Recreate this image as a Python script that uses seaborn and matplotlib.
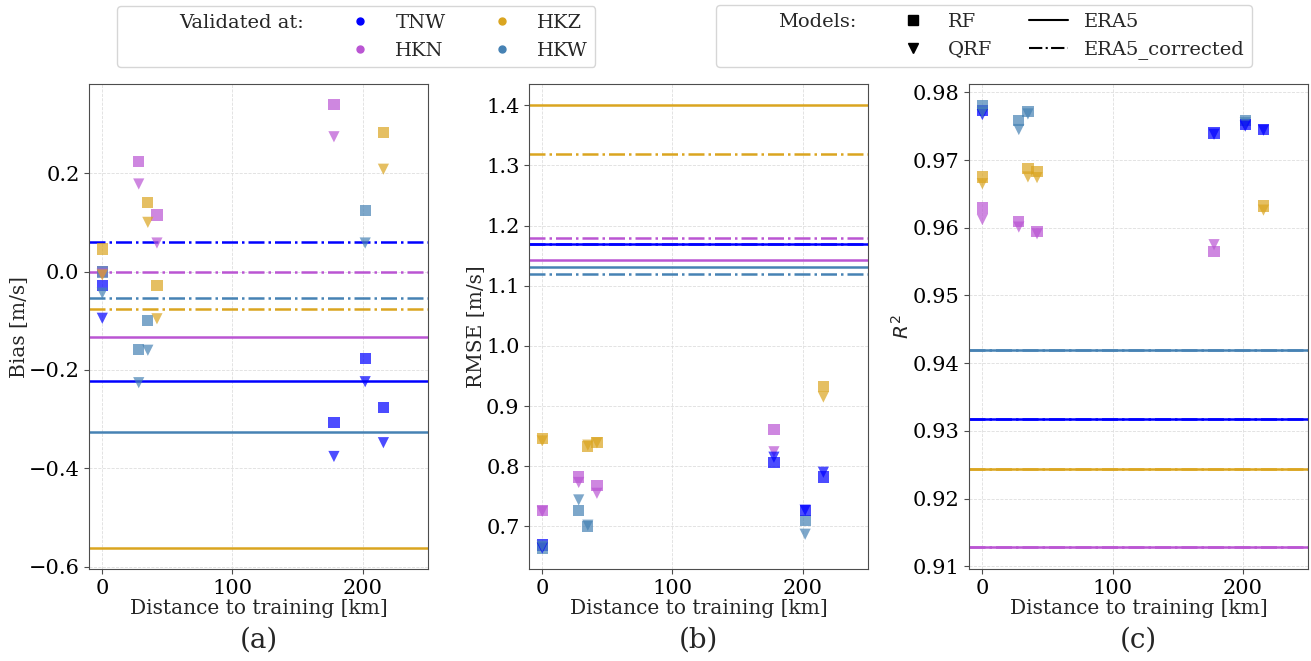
import pandas as pd
import numpy as np
import matplotlib
matplotlib.use("Agg")
import matplotlib.pyplot as plt
import seaborn as sns
from matplotlib.lines import Line2D

# set style of visualization
sns.set_style("ticks")
plt.rcParams["font.family"] = ["DejaVu Serif"]
plt.rcParams["mathtext.fontset"] = "dejavusans"

# =============================================================================
# Data
# =============================================================================

sites = ["TNW", "HKN", "HKZ", "HKW"]
site_colors = ["#0000FF", "#BA55D3", "#DAA520", "#4682B4"]

# validation site and distance to training site of each point
point_site = ["TNW", "HKN", "HKZ", "HKW", "HKN", "HKW", "HKZ", "HKW",
              "HKN", "HKZ", "HKN", "TNW", "HKW", "TNW", "HKZ", "TNW"]
point_dist = [0, 0, 0, 0, 28, 28, 35, 35, 42, 42, 178, 178, 202, 202, 216, 216]

bias_rf = [-0.029, 0.000, 0.046, -0.001, 0.224, -0.159, 0.141, -0.100,
           0.115, -0.028, 0.339, -0.307, 0.124, -0.177, 0.283, -0.277]
bias_qrf = [-0.095, -0.005, -0.007, -0.044, 0.178, -0.226, 0.100, -0.160,
            0.058, -0.096, 0.274, -0.376, 0.058, -0.224, 0.208, -0.348]

rmse_rf = [0.669, 0.727, 0.846, 0.664, 0.782, 0.727, 0.833, 0.700,
           0.768, 0.839, 0.861, 0.806, 0.710, 0.727, 0.933, 0.782]
rmse_qrf = [0.664, 0.725, 0.842, 0.667, 0.773, 0.744, 0.835, 0.702,
            0.755, 0.839, 0.824, 0.815, 0.687, 0.727, 0.915, 0.790]

r2_rf = [0.9773, 0.9629, 0.9675, 0.9781, 0.9609, 0.9758, 0.9688, 0.9772,
         0.9594, 0.9683, 0.9565, 0.9740, 0.9758, 0.9753, 0.9632, 0.9745]
r2_qrf = [0.9767, 0.9612, 0.9665, 0.9770, 0.9601, 0.9745, 0.9675, 0.9768,
          0.9591, 0.9674, 0.9575, 0.9738, 0.9755, 0.9750, 0.9626, 0.9744]

# ERA5 reference per site (TNW, HKN, HKZ, HKW)
bias_era5 = [-0.222, -0.133, -0.562, -0.327]
bias_era5_corr = [0.060, 0.000, -0.076, -0.054]
rmse_era5 = [1.170, 1.142, 1.400, 1.131]
rmse_era5_corr = [1.170, 1.179, 1.319, 1.120]
r2_era5 = [0.9318, 0.9128, 0.9244, 0.9419]
r2_era5_corr = [0.9318, 0.9128, 0.9244, 0.9419]

# =============================================================================
# Plot
# =============================================================================

palette = dict(zip(sites, site_colors))

panels = [
    ("Bias [m/s]", bias_rf, bias_qrf, bias_era5, bias_era5_corr, (-0.605, 0.381), [-0.6, -0.4, -0.2, 0.0, 0.2], "(a)"),
    ("RMSE [m/s]", rmse_rf, rmse_qrf, rmse_era5, rmse_era5_corr, (0.629, 1.435), [0.7, 0.8, 0.9, 1.0, 1.1, 1.2, 1.3, 1.4], "(b)"),
    ("$R^2$", r2_rf, r2_qrf, r2_era5, r2_era5_corr, (0.9096, 0.9812), [0.91, 0.92, 0.93, 0.94, 0.95, 0.96, 0.97, 0.98], "(c)"),
]

fig = plt.figure(figsize=(13.11, 6.61), dpi=100)
lefts = [0.0681, 0.4037, 0.7394]

for left, (ylabel, rf, qrf, era, era_c, ylim, yticks, tag) in zip(lefts, panels):
    ax = fig.add_axes([left, 0.139, 0.2581, 0.7337])

    df = pd.DataFrame({
        "dist": point_dist * 2,
        "site": point_site * 2,
        "model": ["RF"] * len(rf) + ["QRF"] * len(qrf),
        "value": rf + qrf,
    })
    sns.scatterplot(data=df, x="dist", y="value", hue="site", style="model",
                    palette=palette, markers={"RF": "s", "QRF": "v"},
                    s=65, alpha=0.7, linewidth=0,
                    legend=False, ax=ax, zorder=3)

    for site, c, v, vc in zip(sites, site_colors, era, era_c):
        ax.axhline(v, color=c, lw=1.8, ls="-", zorder=2)
        ax.axhline(vc, color=c, lw=1.8, ls="-.", zorder=2)

    ax.set_xlim(-10, 250)
    ax.set_ylim(*ylim)
    ax.set_xticks([0, 100, 200])
    ax.set_yticks(yticks)
    ax.grid(True, ls="--", lw=0.6, color="0.87")
    ax.set_axisbelow(True)
    for sp in ax.spines.values():
        sp.set_color("0.3")
    ax.tick_params(labelsize=15, colors="0.3", labelcolor="black")
    ax.set_xlabel("Distance to training [km]", fontsize=14.5, labelpad=1)
    ax.set_ylabel(ylabel, fontsize=14.5, labelpad=0)
    ax.text(0.5, -0.146, tag, transform=ax.transAxes, ha="center", va="center", fontsize=20)

# legend for validation sites
h1 = [Line2D([], [], ls="none", label="Validated at:"),
      Line2D([], [], ls="none", label=" ")]
for site, c in zip(sites, site_colors):
    h1.append(Line2D([], [], ls="none", marker="o", markersize=5, color=c, label=site))
fig.legend(handles=h1, ncol=3, loc="upper left", bbox_to_anchor=(117 / 1311, 1 - 6 / 661),
           fontsize=14, borderaxespad=0, handletextpad=0.8, columnspacing=1.9,
           labelspacing=0.5)

# legend for models
h2 = [Line2D([], [], ls="none", label="Models:"),
      Line2D([], [], ls="none", label=" "),
      Line2D([], [], ls="none", marker="s", markersize=7, color="k", label="RF"),
      Line2D([], [], ls="none", marker="v", markersize=7, color="k", label="QRF"),
      Line2D([], [], ls="-", lw=1.5, color="k", label="ERA5"),
      Line2D([], [], ls="-.", lw=1.5, color="k", label="ERA5_corrected")]
fig.legend(handles=h2, ncol=3, loc="upper left", bbox_to_anchor=(716 / 1311, 1 - 5 / 661),
           fontsize=14, borderaxespad=0, handletextpad=0.8, columnspacing=1.9,
           labelspacing=0.5)

plt.savefig("out.png", dpi=100)
